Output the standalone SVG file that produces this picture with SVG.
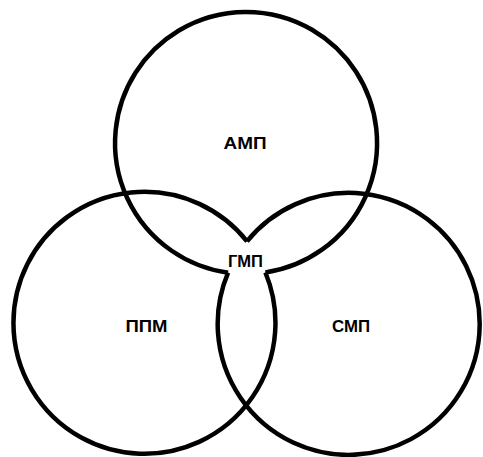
<svg xmlns="http://www.w3.org/2000/svg" width="483" height="457" viewBox="0 0 483 457">
<style>
.c{fill:none;stroke:#000;stroke-width:4.5;stroke-linejoin:miter}
.t{font-family:"Liberation Sans",Arial,sans-serif;font-weight:bold;font-size:16px;fill:#000;text-anchor:middle}
</style>
<rect width="483" height="457" fill="#fff"/>
<g id="amp">
<path class="c" d="M265.4,272.5 A131,131 0 1 0 228.1,272.7"/>
<text class="t" x="245" y="149" textLength="43" lengthAdjust="spacingAndGlyphs">АМП</text>
</g>
<g id="ppm">
<path class="c" d="M265.4,272.5 A131,131 0 1 1 247,241.3"/>
<text class="t" x="146.5" y="332" textLength="42" lengthAdjust="spacingAndGlyphs">ППМ</text>
</g>
<g id="smp">
<path class="c" d="M247,241.3 A131,131 0 1 1 228.1,272.7"/>
<text class="t" x="351" y="332" textLength="38" lengthAdjust="spacingAndGlyphs">СМП</text>
</g>
<g id="gmp">
<text class="t" x="245.5" y="267" textLength="35" lengthAdjust="spacingAndGlyphs">ГМП</text>
</g>
</svg>
